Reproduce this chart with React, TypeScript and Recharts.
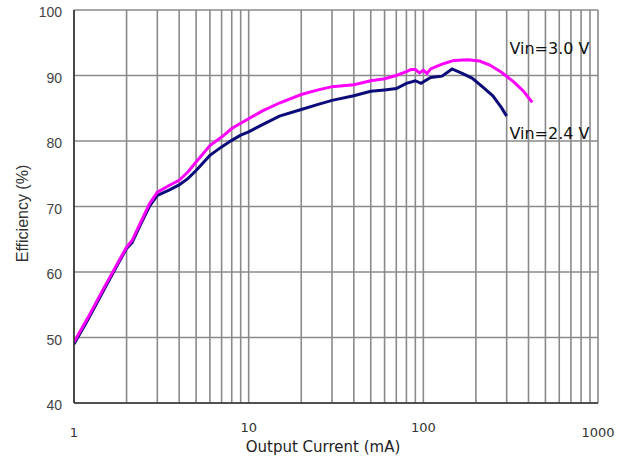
import React from "react";
import {
  LineChart,
  Line,
  XAxis,
  YAxis,
  CartesianGrid,
  ReferenceDot,
} from "recharts";

// Output current (mA) sample points and measured efficiency (%) per input voltage
const currentVin30 = [
  1, 1.2, 1.5, 1.8, 2.0, 2.15, 2.4, 2.7, 3.0, 3.5, 4.0, 4.5, 5, 6, 7, 8, 9, 10,
  12, 15, 20, 25, 30, 40, 50, 60, 70, 80, 85, 90, 95, 100, 105, 110, 130, 150,
  180, 210, 240, 280, 330, 375, 420,
];
const efficiencyVin30 = [
  49.3, 53.0, 57.8, 61.6, 63.8, 64.8, 67.5, 70.4, 72.2, 73.2, 74.0, 75.3, 76.8,
  79.3, 80.6, 81.9, 82.7, 83.4, 84.6, 85.8, 87.1, 87.8, 88.3, 88.6, 89.2, 89.5,
  90.0, 90.6, 90.9, 90.9, 90.4, 90.8, 90.3, 91.0, 91.8, 92.3, 92.4, 92.2, 91.6,
  90.5, 89.0, 87.6, 85.9,
];

const currentVin24 = [
  1, 1.2, 1.5, 1.8, 2.0, 2.15, 2.4, 2.7, 3.0, 3.5, 4.0, 4.5, 5, 6, 7, 8, 9, 10,
  12, 15, 20, 25, 30, 40, 50, 60, 70, 80, 90, 97, 110, 128, 146, 168, 190, 220,
  250, 280, 300,
];
const efficiencyVin24 = [
  49.0, 52.7, 57.5, 61.4, 63.6, 64.5, 67.2, 70.0, 71.7, 72.5, 73.3, 74.3, 75.5,
  77.8, 79.1, 80.1, 80.9, 81.4, 82.5, 83.8, 84.8, 85.6, 86.2, 86.9, 87.6, 87.8,
  88.0, 88.8, 89.2, 88.8, 89.7, 89.9, 91.0, 90.3, 89.6, 88.2, 86.9, 85.1, 83.8,
];

// Log-axis gridline positions; only the decades carry a label
const xGridTicks = [
  1, 2, 3, 4, 5, 6, 7, 8, 9, 10, 20, 30, 40, 50, 60, 70, 80, 90, 100, 200, 300,
  400, 500, 600, 700, 800, 900, 1000,
];
const xLabeledTicks = [1, 10, 100, 1000];
const yTicks = [40, 50, 60, 70, 80, 90, 100];

// Curve annotations placed in data coordinates
const seriesLabels = [
  { text: "Vin=3.0 V", current: 311, efficiency: 94.2 },
  { text: "Vin=2.4 V", current: 311, efficiency: 81.2 },
];

const toPoints = (xs: number[], ys: number[]) =>
  xs.map((x, i) => ({ current: x, efficiency: ys[i] }));

const vin30Data = toPoints(currentVin30, efficiencyVin30);
const vin24Data = toPoints(currentVin24, efficiencyVin24);

const XTick = (props: any) => {
  const { x, y, payload } = props;
  if (!xLabeledTicks.includes(payload.value)) return null;
  const lift = payload.value === 10 || payload.value === 100 ? 5 : 0;
  return (
    <text
      x={x}
      y={y + 34 - lift}
      textAnchor="middle"
      fontFamily="DejaVu Sans"
      fontSize={13}
      fill="#333"
    >
      {payload.value}
    </text>
  );
};

const YTick = (props: any) => {
  const { x, y, payload } = props;
  return (
    <text
      x={x - 12}
      y={y + 7}
      textAnchor="end"
      fontFamily="Liberation Sans"
      fontSize={14}
      fill="#444"
    >
      {payload.value}
    </text>
  );
};

const XTitle = (props: any) => {
  const { viewBox } = props;
  return (
    <text
      x={viewBox.x + 249}
      y={viewBox.y + 49}
      textAnchor="middle"
      fontFamily="DejaVu Sans"
      fontSize={15}
      fill="#222"
    >
      Output Current (mA)
    </text>
  );
};

const YTitle = (props: any) => {
  const { viewBox } = props;
  const cx = 22;
  const cy = viewBox.y + viewBox.height / 2 + 7;
  return (
    <text
      x={cx}
      y={cy}
      transform={`rotate(-90 ${cx} ${cy})`}
      textAnchor="middle"
      dominantBaseline="central"
      fontFamily="Liberation Sans"
      fontSize={16}
      fill="#333"
    >
      Efficiency (%)
    </text>
  );
};

const SeriesLabel = (text: string) => (props: any) => {
  const { viewBox } = props;
  return (
    <text
      x={viewBox.x}
      y={viewBox.y + 6}
      textAnchor="start"
      fontFamily="DejaVu Sans"
      fontSize={16}
      fill="#111"
    >
      {text}
    </text>
  );
};

export default function App() {
  return (
    <div
      style={{
        position: "absolute",
        top: 0,
        left: 0,
        background: "#fff",
        width: 628,
        height: 460,
      }}
    >
      <LineChart
        width={628}
        height={460}
        margin={{ top: 10, right: 30, bottom: 0, left: 0 }}
      >
        <CartesianGrid stroke="#8a8a8a" strokeWidth={1.6} />
        <XAxis
          dataKey="current"
          type="number"
          scale="log"
          domain={[1, 1000]}
          ticks={xGridTicks}
          allowDataOverflow
          interval={0}
          height={57}
          tickSize={0}
          tickMargin={0}
          tickLine={false}
          axisLine={{ stroke: "#333", strokeWidth: 1.6 }}
          tick={<XTick />}
          label={{ content: (p: any) => <XTitle {...p} /> }}
        />
        <YAxis
          type="number"
          domain={[40, 100]}
          ticks={yTicks}
          interval={0}
          width={74}
          tickSize={0}
          tickMargin={0}
          tickLine={false}
          axisLine={{ stroke: "#333", strokeWidth: 1.6 }}
          tick={<YTick />}
          label={{ content: (p: any) => <YTitle {...p} /> }}
        />
        <Line
          data={vin24Data}
          dataKey="efficiency"
          type="linear"
          stroke="#0b0b7a"
          strokeWidth={3}
          dot={false}
          isAnimationActive={false}
        />
        <Line
          data={vin30Data}
          dataKey="efficiency"
          type="linear"
          stroke="#ff00ff"
          strokeWidth={3}
          dot={false}
          isAnimationActive={false}
        />
        {seriesLabels.map((s) => (
          <ReferenceDot
            key={s.text}
            x={s.current}
            y={s.efficiency}
            r={0}
            fill="none"
            stroke="none"
            ifOverflow="visible"
            label={{ content: SeriesLabel(s.text) }}
          />
        ))}
      </LineChart>
    </div>
  );
}
